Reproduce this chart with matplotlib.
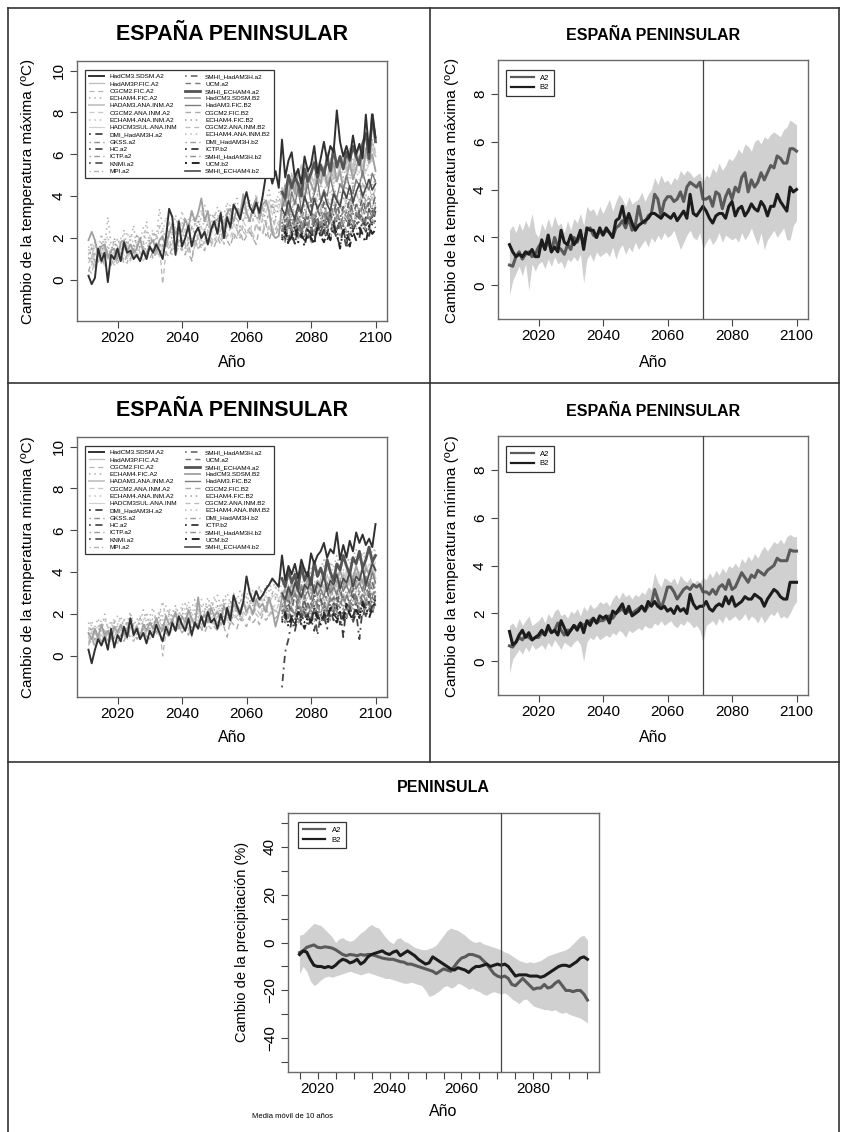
import matplotlib
matplotlib.use("Agg")
import matplotlib.pyplot as plt
from matplotlib.lines import Line2D

plt.rcParams["font.family"] = ["Liberation Sans", "DejaVu Sans"]

W, H = 843, 1132

years_full = list(range(2011, 2101))
years_pr = list(range(2015, 2096))

model_names = [
    "HadCM3.SDSM.A2", "HadAM3P.FIC.A2", "CGCM2.FIC.A2", "ECHAM4.FIC.A2",
    "HADAM3.ANA.INM.A2", "CGCM2.ANA.INM.A2", "ECHAM4.ANA.INM.A2", "HADCM3SUL.ANA.INM",
    "DMI_HadAM3H.a2", "GKSS.a2", "HC.a2", "ICTP.a2", "KNMI.a2", "MPI.a2",
    "SMHI_HadAM3H.a2", "UCM.a2", "SMHI_ECHAM4.a2", "HadCM3.SDSM.B2",
    "HadAM3.FIC.B2", "CGCM2.FIC.B2", "ECHAM4.FIC.B2", "CGCM2.ANA.INM.B2",
    "ECHAM4.ANA.INM.B2", "DMI_HadAM3H.b2", "ICTP.b2", "SMHI_HadAM3H.b2",
    "UCM.b2", "SMHI_ECHAM4.b2",
]

# ---- temperatura maxima (2011-2100 o 2071-2100) ----
tx_hadcm3_sdsm_a2 = [0.2,-0.2,0.1,1.5,0.9,1.3,-0.1,1.2,1.0,1.5,
    0.9,1.8,1.3,1.4,1.0,1.2,0.9,1.4,1.0,1.6, 1.3,1.7,1.4,1.0,2.0,3.4,3.0,1.2,2.8,1.6,
    2.0,2.6,1.6,2.2,2.5,2.0,2.3,1.7,2.4,2.8, 2.2,3.2,2.0,3.0,2.5,3.6,3.3,2.9,3.6,4.2,
    3.5,3.2,3.7,3.2,4.0,5.0,5.3,4.6,5.2,4.4, 6.7,4.9,5.7,6.1,4.9,5.3,4.6,5.9,5.2,5.5,
    6.4,5.1,5.8,6.6,5.7,6.4,6.1,8.1,6.6,5.9, 6.4,5.8,6.9,6.0,6.5,5.8,7.9,6.1,7.9,6.8]
tx_hadam3p_fic_a2 = [3.9,4.6,4.2,5.1,4.4,4.9,5.5,4.3,5.2,4.8,5.9,4.6,5.4,5.0,6.1,
    5.3,4.8,5.7,5.2,6.0,5.5,6.3,5.1,5.8,6.4,5.4,6.0,5.6,6.6,6.1]
tx_cgcm2_fic_a2 = [0.5,0.3,1.0,0.8,1.3,0.6,1.1,0.9,1.4,0.7,
    1.2,1.0,0.8,1.5,1.1,1.3,0.9,1.6,1.2,1.0, 1.4,1.1,1.7,-0.2,1.3,1.5,1.9,1.2,1.6,1.4,
    1.8,1.3,0.9,1.7,2.0,1.5,1.9,2.2,1.6,2.0, 1.8,2.3,1.7,2.1,2.5,1.9,2.4,2.0,2.6,2.2,
    2.5,1.9,2.7,2.3,2.9,2.1,2.6,3.0,2.4,2.8, 2.7,3.2,2.5,3.0,3.4,2.8,3.1,3.6,2.9,3.3,
    3.0,3.5,3.2,2.8,3.7,3.3,3.9,3.1,3.6,3.4, 3.8,3.2,4.0,3.5,3.7,4.2,3.6,4.1,3.9,4.4]
tx_echam4_fic_a2 = [1.3,0.9,1.8,1.2,2.2,1.5,3.0,1.7,1.1,2.0,
    1.6,2.4,1.3,1.9,2.6,1.5,2.1,1.8,2.8,1.6, 2.3,2.0,3.4,2.5,1.9,2.8,2.2,3.1,2.4,2.7,
    3.0,2.5,3.3,2.8,2.3,3.1,3.6,2.7,3.2,2.9, 3.5,2.8,3.1,3.7,2.9,3.4,3.9,3.0,3.6,3.2,
    3.8,3.3,4.1,3.5,3.0,3.7,4.3,3.4,3.9,3.6, 4.4,3.8,4.6,4.0,5.0,4.2,4.7,4.1,5.3,4.5,
    4.9,5.5,4.6,5.1,4.4,5.8,4.8,5.2,6.0,4.9, 5.4,6.2,5.0,5.7,6.5,5.2,6.0,5.5,6.7,5.8]
tx_hadam3_ana_a2 = [4.4,3.8,4.9,4.3,5.2,4.0,4.7,5.5,4.5,5.0,4.6,5.6,4.9,5.3,4.7,
    5.8,5.1,4.8,5.5,6.0,5.2,5.7,5.4,6.2,5.6,5.1,6.0,5.7,6.3,5.9]
tx_cgcm2_ana_a2 = [0.8,1.2,0.6,1.0,1.4,0.9,1.3,1.1,0.7,1.2,
    1.0,1.5,1.2,0.9,1.4,1.1,1.6,1.3,1.0,1.5, 1.3,1.7,1.1,1.5,1.9,1.4,1.2,1.8,1.6,2.0,
    1.7,1.4,2.1,1.8,1.5,2.2,1.9,2.4,1.7,2.1, 2.3,1.9,2.6,2.2,2.0,2.7,2.4,2.1,2.8,2.5,
    2.2,2.9,2.6,2.3,3.0,2.7,3.2,2.5,2.9,2.6, 3.1,2.8,3.4,3.0,2.7,3.5,3.2,2.9,3.7,3.3,
    3.0,3.6,3.4,3.1,3.9,3.5,3.2,4.0,3.7,3.4, 4.1,3.6,3.9,4.3,3.7,4.2,4.0,4.5,3.8,4.4]
tx_echam4_ana_a2 = [1.6,1.1,1.9,1.4,1.0,1.7,2.1,1.3,1.8,1.5,
    2.0,1.6,2.3,1.8,1.4,2.2,1.9,2.5,1.7,2.1, 2.4,1.9,2.7,2.2,3.0,2.0,2.6,2.3,2.9,2.5,
    2.8,2.3,3.1,2.6,2.9,3.3,2.7,3.0,2.5,3.2, 3.0,3.4,2.8,3.3,3.6,3.1,2.9,3.5,3.2,3.8,
    3.4,3.1,3.7,3.3,4.0,3.6,3.2,3.9,3.5,4.2, 4.0,4.5,3.8,4.3,4.7,4.1,4.9,4.4,5.1,4.6,
    4.3,5.0,4.7,5.4,4.8,5.2,4.6,5.5,5.0,5.7, 5.3,4.9,5.8,5.2,6.0,5.5,5.1,6.2,5.6,6.4]
tx_hadcm3sul_ana = [1.2,1.6,0.8,1.3,1.0,1.5,1.2,0.8,1.1,1.3,
    1.6,1.2,1.0,1.4,1.7,1.1,1.3,0.9,1.2,1.5, 1.4,1.8,1.2,1.6,2.0,1.7,1.4,2.2,1.8,2.1,
    2.4,1.9,2.6,2.2,2.0,2.5,2.3,2.8,2.1,2.6, 2.7,2.3,2.9,2.5,3.1,2.7,2.4,3.0,2.8,3.3,
    2.9,3.4,3.0,2.7,3.5,3.2,3.8,3.1,3.6,3.4, 3.9,3.5,4.2,3.7,4.0,4.4,3.8,4.6,4.1,4.3,
    4.7,4.2,4.5,4.9,4.4,5.1,4.6,4.8,5.2,4.7, 5.0,5.4,4.9,5.3,5.1,5.6,5.2,5.5,5.8,5.3]
tx_dmi_a2 = [2.4,1.9,2.8,2.1,1.7,2.5,2.2,3.0,2.0,2.6,1.8,2.9,2.3,2.7,2.1,
    3.1,2.4,2.0,2.8,2.5,1.6,2.9,2.3,3.2,2.6,2.2,3.0,2.4,3.3,2.7]
tx_gkss_a2 = [2.9,2.4,3.3,2.6,3.0,2.2,2.8,3.4,2.5,3.1,2.7,3.5,2.9,2.4,3.2,
    2.8,3.6,3.0,2.6,3.4,3.1,2.7,3.7,3.2,2.9,3.5,3.3,3.9,3.0,3.6]
tx_hc_a2 = [2.1,2.6,1.9,2.4,2.9,2.2,2.0,2.7,2.4,1.9,2.8,2.3,2.6,2.1,3.0,
    2.5,2.2,2.9,2.6,2.3,1.5,2.4,2.8,2.5,3.1,2.7,2.3,3.0,2.6,3.3]
tx_ictp_a2 = [3.2,2.7,3.6,3.0,2.6,3.4,3.1,2.8,3.7,3.2,2.9,3.5,3.3,3.8,3.0,
    3.4,3.1,3.9,3.5,3.2,3.7,3.4,4.0,3.6,3.3,4.1,3.8,3.5,4.2,3.9]
tx_knmi_a2 = [2.6,2.2,2.9,2.5,2.1,2.8,2.4,2.0,2.7,2.3,3.0,2.6,2.2,2.9,2.5,
    3.2,2.7,2.4,3.0,2.6,2.3,3.1,2.8,2.5,3.3,2.9,2.6,3.4,3.0,3.5]
tx_mpi_a2 = [3.5,3.0,3.8,3.3,3.9,3.4,3.1,4.0,3.6,3.2,4.1,3.7,3.4,4.2,3.8,
    3.5,4.3,3.9,3.6,4.4,4.0,3.7,4.5,4.1,3.8,4.6,4.2,4.7,4.3,4.8]
tx_smhi_had_a2 = [2.7,3.2,2.5,3.0,2.8,3.5,2.6,3.1,2.9,3.6,2.7,3.3,3.0,3.7,2.8,
    3.4,3.1,3.8,3.0,3.5,3.2,3.9,3.1,3.6,3.3,4.0,3.2,3.7,3.4,4.1]
tx_ucm_a2 = [2.3,2.9,2.0,2.6,2.4,3.1,2.2,2.8,2.5,3.2,2.3,2.9,2.6,3.3,2.4,
    3.0,2.7,3.4,2.5,3.1,2.8,3.5,2.6,3.2,2.9,3.6,2.7,3.3,3.0,3.7]
tx_smhi_ech_a2 = [4.2,3.9,5.0,4.4,4.9,4.6,4.0,5.3,4.7,5.1,5.6,4.9,5.5,5.0,5.8,
    5.2,6.3,5.4,5.9,5.3,6.1,5.7,6.4,5.9,5.5,6.5,7.0,5.8,7.9,6.6]
tx_hadcm3_sdsm_b2 = [1.9,2.3,1.9,1.2,1.6,1.7,1.1,1.4,1.5,1.0,
    1.8,1.9,1.4,1.7,1.3,1.5,2.0,1.3,1.2,1.7, 1.9,1.4,1.9,2.1,1.6,2.2,2.7,2.2,2.5,2.3,
    2.9,2.5,3.3,2.8,3.2,3.9,2.8,3.3,2.4,2.8, 2.9,3.1,2.4,3.2,3.4,2.8,3.4,3.1,4.1,3.2,
    2.8,3.5,3.9,2.9,3.6,3.8,3.3,2.2,2.0,2.1, 3.6,4.5,3.9,4.8,4.1,5.3,4.4,3.8,5.1,4.6,
    4.2,5.0,4.6,5.4,4.5,4.9,5.6,4.7,5.2,4.3, 4.9,5.6,4.8,5.3,5.9,4.9,6.3,5.6,6.0,5.2]
tx_hadam3_fic_b2 = [3.4,3.9,3.1,4.2,3.6,4.4,3.3,3.9,4.6,3.7,4.1,4.8,3.8,4.3,4.0,
    4.9,4.2,3.9,4.6,4.3,5.0,4.4,4.1,4.8,4.5,5.2,4.6,4.3,5.1,4.7]
tx_cgcm2_fic_b2 = [0.4,0.9,0.6,1.2,0.8,1.0,1.4,0.7,1.1,0.9,
    1.3,0.8,1.2,1.0,1.5,1.1,0.9,1.4,1.2,1.6, 1.0,1.4,1.2,1.7,1.3,1.1,1.6,1.4,1.9,1.5,
    1.2,1.8,0.9,2.0,1.5,1.7,1.4,2.1,1.8,1.6, 2.0,1.7,2.3,1.9,1.6,2.2,2.0,2.4,1.8,2.1,
    2.3,2.0,1.7,2.5,2.2,2.7,1.9,2.4,2.1,2.6, 2.4,2.1,2.7,2.3,2.9,2.5,2.2,2.8,2.6,3.0,
    2.7,2.4,3.0,2.6,3.2,2.8,2.5,3.1,2.9,3.3, 3.0,2.7,3.3,2.9,3.5,3.1,2.8,3.4,3.2,3.6]
tx_echam4_fic_b2 = [1.0,1.5,0.8,1.3,1.8,1.1,1.6,1.3,2.0,1.2,
    1.7,1.4,1.9,1.2,1.6,2.1,1.5,1.8,1.3,2.0, 1.8,2.2,1.6,2.0,1.7,2.4,1.9,2.1,2.6,1.8,
    2.3,2.0,2.5,2.2,2.8,2.1,2.4,2.7,2.3,2.6, 2.9,2.4,2.7,3.1,2.5,2.9,2.6,3.2,2.8,3.0,
    2.7,3.3,2.9,3.1,3.5,2.8,3.2,3.6,3.0,3.4, 3.2,3.7,3.4,3.0,3.8,3.5,3.3,4.0,3.6,3.9,
    3.5,4.1,3.7,4.3,3.9,3.6,4.4,4.0,4.2,3.8, 4.5,4.1,4.3,4.7,4.2,4.6,4.4,4.9,4.5,4.8]
tx_cgcm2_ana_b2 = [1.1,0.7,1.3,0.9,1.2,1.5,1.0,1.4,0.8,1.3,
    1.1,1.6,1.2,1.4,1.0,1.7,1.3,1.5,1.2,1.8, 1.4,1.2,1.7,1.5,1.3,1.9,1.6,1.4,2.0,1.7,
    1.5,2.1,1.8,1.6,2.2,1.9,1.7,2.3,2.0,1.8, 2.2,2.4,1.9,2.1,2.5,2.2,2.0,2.6,2.3,2.1,
    2.5,2.2,2.7,2.4,2.3,2.8,2.5,2.2,2.9,2.6, 2.8,2.5,3.0,2.7,2.6,3.1,2.8,2.5,3.2,2.9,
    3.1,2.8,3.3,3.0,2.9,3.4,3.1,2.8,3.5,3.2, 3.4,3.1,3.6,3.3,3.2,3.7,3.4,3.9,3.5,3.8]
tx_echam4_ana_b2 = [1.4,1.8,1.2,1.6,1.1,2.0,1.5,1.3,1.9,1.6,
    1.3,1.9,1.6,2.2,1.7,1.4,2.1,1.8,2.4,1.9, 2.2,1.7,2.5,2.0,2.3,2.8,2.1,2.6,2.2,3.3,
    2.4,2.9,2.3,2.7,3.1,2.5,2.8,3.0,2.6,3.2, 2.8,3.1,2.7,3.4,3.0,3.6,2.9,3.3,3.1,3.5,
    3.2,2.9,3.6,3.3,3.0,3.8,3.4,3.7,3.2,3.9, 3.6,4.0,3.5,4.2,3.8,4.4,3.7,4.1,4.5,3.9,
    4.3,4.0,4.6,4.2,4.8,4.1,4.5,4.9,4.4,4.7, 4.6,5.0,4.5,5.2,4.8,4.6,5.3,4.9,5.1,5.0]
tx_dmi_b2 = [2.2,1.8,2.6,2.0,2.4,1.9,2.7,2.1,2.5,1.7,2.3,2.8,2.0,2.6,2.2,
    1.9,2.7,2.4,2.1,2.9,2.3,2.0,2.8,2.5,2.2,3.0,2.4,2.1,2.9,2.6]
tx_ictp_b2 = [2.0,2.5,1.8,2.3,1.7,2.6,2.1,1.9,2.4,2.2,1.7,2.7,2.0,2.4,1.9,
    2.3,2.8,2.1,1.6,2.5,2.2,1.9,2.6,2.3,2.0,2.9,2.4,2.1,2.7,2.5]
tx_smhi_had_b2 = [2.6,2.2,2.9,2.4,3.1,2.5,2.3,3.0,2.7,2.4,3.2,2.6,2.8,2.5,3.3,
    2.7,2.4,3.1,2.9,2.6,3.4,2.8,2.5,3.2,3.0,2.7,3.5,2.9,3.3,3.1]
tx_ucm_b2 = [1.9,2.3,1.7,2.1,2.6,1.8,2.2,1.6,2.4,2.0,1.7,2.5,2.1,1.8,2.3,
    1.9,2.6,2.2,1.5,2.4,2.0,1.6,2.3,1.9,2.5,2.1,1.8,2.6,2.2,2.4]
tx_smhi_ech_b2 = [3.4,3.1,3.8,3.3,2.9,3.6,3.2,4.0,3.5,3.1,3.9,3.4,3.7,4.2,3.6,
    3.3,4.1,3.8,3.5,4.3,3.9,4.5,3.7,4.2,4.6,4.0,4.4,4.8,4.3,4.6]

# ---- temperatura minima ----
tn_hadcm3_sdsm_a2 = [0.3,-0.35,0.3,0.8,0.5,0.9,0.3,1.3,0.4,1.0,
    0.7,1.4,0.9,1.8,1.0,1.3,0.8,1.1,0.6,1.2, 0.9,1.5,1.1,0.7,1.4,1.0,1.6,1.2,1.9,1.5,
    1.2,1.8,1.0,1.6,1.3,1.9,1.4,2.1,1.6,1.8, 1.3,2.0,1.5,2.3,1.7,2.9,2.4,2.0,2.6,3.8,
    3.0,2.6,3.1,2.7,2.9,3.2,3.4,3.7,3.5,3.3, 4.8,3.6,4.3,3.9,4.4,3.7,4.6,4.1,3.8,4.9,
    4.4,4.8,5.0,5.4,4.7,5.1,4.9,5.9,4.6,5.3, 4.7,5.5,5.0,5.9,5.4,5.8,5.3,5.6,5.2,6.3]
tn_hadam3p_fic_a2 = [3.1,2.6,3.4,2.9,3.6,3.0,2.7,3.5,3.2,3.8,3.0,3.6,3.3,2.9,3.9,
    3.4,3.1,4.0,3.5,3.2,4.1,3.6,3.3,4.3,3.7,3.4,4.4,3.9,4.6,4.0]
tn_cgcm2_fic_a2 = [0.5,0.8,0.4,0.9,0.6,1.0,0.7,1.1,0.8,0.6,
    1.0,0.8,1.2,0.9,0.7,1.1,0.9,1.3,1.0,0.8, 1.2,1.0,1.4,0.0,1.1,1.3,1.5,1.2,1.4,1.1,
    1.5,1.3,0.9,1.6,1.4,1.2,1.7,1.5,1.3,1.8, 1.6,1.4,1.9,1.7,1.5,2.0,1.8,1.6,2.1,1.9,
    1.7,2.2,2.0,1.8,2.3,2.1,1.9,2.4,2.2,2.0, 2.5,2.3,2.1,2.6,2.4,2.2,2.7,2.5,2.3,2.8,
    2.6,2.4,2.9,2.7,2.5,3.0,2.8,2.6,3.1,2.9, 2.7,3.2,3.0,2.8,3.3,3.1,2.9,3.4,3.2,3.5]
tn_echam4_fic_a2 = [1.6,1.0,1.4,1.8,1.1,2.0,1.3,1.7,1.2,1.5,
    1.9,1.3,1.6,2.1,1.4,1.8,1.5,2.2,1.6,1.9, 2.3,1.7,2.0,2.6,1.8,2.1,1.9,2.4,2.0,2.2,
    2.5,2.0,2.3,2.7,2.1,2.4,2.2,2.8,2.3,2.6, 2.9,2.4,2.7,3.0,2.5,2.8,2.6,3.1,2.7,2.9,
    3.2,2.8,3.0,3.3,2.9,3.4,3.1,3.6,3.2,3.5, 3.7,3.3,3.9,3.5,4.1,3.6,3.8,4.3,3.7,4.0,
    4.4,3.9,4.2,4.6,4.0,4.5,4.2,4.8,4.3,4.6, 4.9,4.4,4.7,5.1,4.6,5.0,4.8,5.3,4.9,5.2]
tn_hadam3_ana_a2 = [2.8,3.3,2.6,3.1,2.9,3.5,2.7,3.2,3.6,3.0,3.4,2.8,3.7,3.2,3.5,
    3.0,3.8,3.3,3.6,3.1,3.9,3.4,3.7,3.2,4.0,3.5,3.8,3.3,4.2,3.7]
tn_cgcm2_ana_a2 = [0.7,1.0,0.5,0.9,1.1,0.6,1.0,0.8,1.2,0.9,
    1.1,0.8,1.3,1.0,0.9,1.2,1.4,1.0,1.3,1.1, 1.4,1.2,1.0,1.5,1.3,1.6,1.2,1.4,1.7,1.3,
    1.5,1.8,1.4,1.6,1.9,1.5,1.7,2.0,1.6,1.8, 2.0,1.7,2.1,1.8,2.2,1.9,2.0,2.3,1.9,2.2,
    2.4,2.0,2.3,2.5,2.1,2.4,2.6,2.2,2.5,2.7, 2.4,2.8,2.5,2.6,2.9,2.6,3.0,2.7,2.8,3.1,
    2.8,3.2,2.9,3.0,3.3,3.0,3.4,3.1,3.2,3.5, 3.2,3.6,3.3,3.4,3.7,3.4,3.8,3.5,3.6,3.9]
tn_echam4_ana_a2 = [1.3,1.7,1.1,1.5,1.2,1.8,1.4,1.2,1.6,1.9,
    1.4,1.8,1.5,2.0,1.6,1.4,1.9,1.7,2.1,1.6, 2.0,1.7,2.2,1.9,2.4,1.8,2.1,2.3,1.9,2.5,
    2.2,2.6,2.0,2.4,2.2,2.7,2.3,2.5,2.1,2.8, 2.5,2.3,2.8,2.6,2.4,3.0,2.7,2.5,3.1,2.8,
    2.6,3.2,2.9,3.3,2.8,3.1,3.4,3.0,3.3,3.1, 3.5,3.2,3.7,3.4,3.9,3.5,3.3,4.0,3.6,4.2,
    3.8,4.1,3.7,4.3,4.0,4.5,3.9,4.2,4.6,4.1, 4.4,4.7,4.3,4.8,4.5,4.9,4.6,5.0,4.7,5.1]
tn_hadcm3sul_ana = [0.9,1.2,0.7,1.0,1.3,0.8,1.1,0.9,1.2,1.0,
    1.3,1.1,0.9,1.4,1.2,1.5,1.0,1.3,1.1,1.6, 1.4,1.2,1.7,1.3,1.5,1.8,1.4,1.6,1.9,1.5,
    1.7,2.0,1.6,1.8,2.1,1.7,1.9,2.2,1.8,2.0, 2.2,1.9,2.3,2.0,2.4,2.1,2.5,2.2,2.6,2.3,
    2.5,2.7,2.4,2.8,2.6,2.9,2.5,2.8,3.0,2.7, 3.1,2.8,3.2,2.9,3.3,3.0,3.4,3.1,3.5,3.2,
    3.4,3.6,3.3,3.7,3.5,3.8,3.4,3.9,3.6,4.0, 3.8,4.1,3.7,4.2,3.9,4.3,4.0,4.4,4.1,4.5]
tn_dmi_a2 = [-1.5,0.2,0.8,1.7,1.2,1.9,1.5,2.1,1.4,1.8,1.2,2.0,1.6,1.9,1.3,
    2.2,1.7,2.4,1.5,2.0,1.8,2.5,1.6,2.1,0.8,2.3,1.9,2.6,2.0,2.8]
tn_gkss_a2 = [2.5,2.1,2.8,2.3,2.0,2.6,2.2,2.9,2.4,2.1,2.7,2.3,3.0,2.5,2.2,
    2.8,2.4,3.1,2.6,2.3,2.9,2.5,3.2,2.7,2.4,3.0,2.6,3.3,2.8,3.4]
tn_hc_a2 = [1.9,1.6,2.2,1.8,1.5,2.1,1.7,2.3,1.9,1.6,2.2,1.0,2.0,1.7,2.3,
    1.9,2.5,1.8,2.1,1.6,2.4,2.0,1.7,2.6,2.1,1.8,2.5,2.2,2.8,2.4]
tn_ictp_a2 = [2.8,2.4,3.1,2.6,2.9,2.3,3.0,2.7,3.2,2.5,2.9,3.3,2.7,3.0,2.6,
    3.4,2.8,3.1,2.7,3.5,2.9,3.2,2.8,3.6,3.0,3.3,2.9,3.7,3.1,3.8]
tn_knmi_a2 = [2.2,1.8,2.5,2.0,1.7,2.3,1.9,2.6,2.1,1.8,2.4,2.0,2.7,2.2,1.9,
    2.5,2.1,2.8,2.3,2.0,2.6,2.2,2.9,2.4,2.1,2.7,2.3,3.0,2.5,2.9]
tn_mpi_a2 = [3.0,2.6,3.3,2.8,3.5,2.9,3.2,2.7,3.6,3.0,3.4,2.9,3.7,3.1,3.3,
    3.8,3.2,3.5,3.0,3.9,3.3,3.6,3.1,4.0,3.4,3.7,3.2,4.1,3.6,4.2]
tn_smhi_had_a2 = [2.4,2.0,2.7,2.2,2.9,2.3,2.1,2.8,2.5,2.2,3.0,2.4,2.6,2.3,3.1,
    2.5,2.8,2.4,3.2,2.6,2.9,2.5,3.3,2.7,3.0,2.6,3.4,2.8,3.5,3.0]
tn_ucm_a2 = [2.0,2.4,1.8,2.2,1.9,2.6,2.0,2.3,1.8,2.5,2.1,2.7,1.9,2.4,2.2,
    2.8,2.0,2.5,2.3,2.9,2.1,2.6,2.4,3.0,2.2,2.7,2.5,3.1,2.3,2.8]
tn_smhi_ech_a2 = [3.7,3.3,4.1,3.5,3.9,3.2,4.3,3.6,4.0,3.4,4.5,3.8,4.2,3.7,4.6,
    4.0,3.6,4.4,4.1,4.8,4.3,3.9,4.7,4.4,5.0,4.2,4.6,5.2,4.5,4.8]
tn_hadcm3_sdsm_b2 = [1.1,0.8,1.3,0.9,1.5,1.0,1.2,0.8,1.4,1.1,
    1.5,1.0,1.3,1.7,1.1,1.4,0.9,1.5,1.2,1.6, 1.3,1.8,1.4,1.2,1.9,1.5,1.7,2.1,1.3,1.9,
    1.6,2.2,1.8,1.4,2.8,1.7,2.0,1.6,2.3,1.9, 2.1,1.7,2.4,2.0,1.8,2.5,2.2,1.9,2.6,2.1,
    2.4,2.0,2.7,2.3,2.5,2.1,2.8,2.2,1.4,2.0, 2.8,3.2,2.7,3.5,3.0,2.8,3.4,3.1,3.7,3.2,
    3.0,3.6,3.3,3.9,3.4,3.1,3.8,3.5,4.1,3.6, 3.4,4.0,3.7,4.3,3.8,3.5,4.2,3.9,4.6,4.1]
tn_hadam3_fic_b2 = [2.9,2.5,3.2,2.7,3.0,2.6,3.3,2.8,3.1,2.7,3.4,2.9,3.2,2.8,3.5,
    3.0,3.3,2.9,3.6,3.1,3.4,3.0,3.7,3.2,3.5,3.1,3.8,3.3,4.0,3.5]
tn_cgcm2_fic_b2 = [0.6,0.9,0.5,1.0,0.7,0.8,1.1,0.6,0.9,0.8,
    1.0,0.7,1.1,0.9,1.2,0.8,1.0,1.3,0.9,1.1, 0.9,1.2,1.0,1.3,1.1,0.9,1.4,1.2,1.5,1.1,
    1.3,1.0,1.4,1.2,1.6,1.3,1.1,1.5,1.7,1.4, 1.2,1.6,1.4,0.9,1.7,1.5,1.3,1.8,1.6,1.4,
    1.9,1.6,1.8,1.5,2.0,1.7,1.9,2.1,1.8,2.0, 1.8,2.1,1.9,2.2,2.0,2.3,2.1,1.9,2.4,2.2,
    2.0,2.3,2.5,2.1,2.4,2.2,2.6,2.3,2.5,2.7, 2.4,2.6,2.8,2.5,2.7,2.9,2.6,2.8,3.0,2.7]
tn_echam4_fic_b2 = [1.0,1.4,0.8,1.2,1.5,1.1,1.3,0.9,1.6,1.2,
    1.4,1.1,1.7,1.3,1.5,1.2,1.8,1.4,1.6,1.3, 1.7,1.5,1.9,1.4,1.8,2.0,1.6,1.9,1.7,2.1,
    1.8,2.2,1.7,2.0,2.3,1.9,2.1,2.4,2.0,2.2, 2.4,2.1,2.5,2.2,2.6,2.3,2.1,2.7,2.4,2.5,
    2.7,2.4,2.8,2.6,2.9,2.5,2.7,3.0,2.8,2.6, 2.9,3.1,2.8,3.2,3.0,3.3,2.9,3.1,3.4,3.2,
    3.0,3.4,3.2,3.5,3.3,3.1,3.6,3.4,3.7,3.5, 3.3,3.8,3.5,3.9,3.6,4.0,3.7,3.9,4.1,3.8]
tn_cgcm2_ana_b2 = [0.9,0.6,1.1,0.8,1.0,1.2,0.7,1.1,0.9,1.3,
    1.0,1.2,0.8,1.3,1.1,1.4,1.0,1.2,1.5,1.1, 1.3,1.5,1.2,1.4,1.6,1.3,1.5,1.2,1.7,1.4,
    1.6,1.3,1.8,1.5,1.7,1.4,1.9,1.6,1.8,1.5, 1.9,1.7,2.0,1.6,2.1,1.8,1.9,2.2,1.7,2.0,
    2.2,1.9,2.3,2.0,2.1,2.4,1.9,2.3,2.1,2.5, 2.2,2.4,2.1,2.6,2.3,2.5,2.2,2.7,2.4,2.6,
    2.3,2.8,2.5,2.7,2.4,2.9,2.6,2.8,2.5,3.0, 2.7,2.9,2.6,3.1,2.8,3.0,2.7,3.2,2.9,3.1]
tn_echam4_ana_b2 = [1.2,1.5,1.0,1.4,1.7,1.1,1.5,1.3,1.8,1.4,
    1.2,1.7,1.4,1.9,1.5,1.3,1.8,1.6,2.0,1.5, 1.8,1.6,2.1,1.7,1.9,2.3,1.8,2.0,1.7,2.2,
    2.0,2.4,1.9,2.2,2.5,2.0,2.3,2.1,2.6,2.2, 2.4,2.1,2.7,2.3,2.5,2.8,2.2,2.6,2.4,2.9,
    2.6,2.4,3.0,2.5,2.8,3.1,2.6,2.9,2.7,3.2, 2.9,3.3,2.8,3.1,3.4,3.0,3.2,3.5,3.1,3.3,
    3.6,3.2,3.4,3.7,3.3,3.5,3.8,3.4,3.6,3.9, 3.7,3.5,4.0,3.6,3.8,4.1,3.7,3.9,4.2,4.0]
tn_dmi_b2 = [1.9,1.6,2.2,1.8,2.0,1.5,2.3,1.9,1.7,2.1,1.6,2.4,2.0,1.8,2.2,
    1.7,2.5,2.1,1.9,2.3,1.8,2.6,2.2,2.0,2.4,1.9,2.7,2.3,2.1,2.5]
tn_ictp_b2 = [1.7,2.1,1.5,1.9,1.4,2.2,1.8,1.6,2.0,1.5,2.3,1.9,1.7,2.1,1.6,
    2.4,2.0,1.8,2.2,0.9,2.5,2.1,1.9,2.3,1.8,2.6,2.2,2.0,2.4,2.7]
tn_smhi_had_b2 = [2.1,2.5,1.9,2.3,2.0,2.6,2.2,1.9,2.4,2.1,2.7,2.3,2.0,2.5,2.2,
    2.8,2.4,2.1,2.6,2.3,2.9,2.5,2.2,2.7,2.4,3.0,2.6,2.3,2.8,3.1]
tn_ucm_b2 = [1.6,2.0,1.4,1.8,1.5,2.1,1.7,1.3,1.9,1.6,2.2,1.8,1.5,2.0,1.7,
    2.3,1.9,1.6,2.1,1.8,2.4,2.0,1.7,2.2,1.9,2.5,2.1,1.8,2.3,2.6]
tn_smhi_ech_b2 = [3.0,2.7,3.3,2.9,3.5,3.1,2.8,3.4,3.2,3.7,3.0,3.5,3.3,3.8,3.1,
    3.6,3.4,3.9,3.2,3.7,3.5,4.0,3.3,3.8,3.6,4.2,3.4,3.9,4.4,4.1]

# ---- medias de escenario y rango (2011-2100) ----
tx_a2 = [0.85,0.8,1.2,1.4,1.1,1.3,1.4,1.2,1.3,1.6,
    1.8,1.5,1.9,1.4,2.0,1.6,1.5,1.3,1.7,1.5, 2.0,1.8,2.2,1.7,2.3,2.4,2.1,2.0,2.3,2.1,
    2.3,2.2,2.0,2.4,2.5,2.7,2.4,2.8,2.3,2.5, 3.3,2.7,2.6,2.9,3.0,3.8,3.6,2.9,3.5,3.7,
    3.7,3.5,3.6,3.9,3.5,4.1,4.3,4.2,4.1,4.3, 3.6,3.6,3.7,3.3,3.9,3.8,3.2,3.7,4.0,3.6,
    4.1,3.9,4.5,4.7,3.9,4.4,4.1,4.3,4.7,4.4, 4.7,5.0,4.9,5.4,5.3,5.1,5.1,5.7,5.7,5.6]
tx_b2 = [1.7,1.4,1.2,1.3,1.2,1.4,1.3,1.5,1.2,1.2,
    1.9,1.5,2.1,1.4,1.6,1.4,2.3,1.8,1.7,2.1, 1.7,1.9,2.3,1.5,2.4,2.3,2.3,2.0,2.4,2.1,
    2.4,2.2,2.0,2.7,2.8,3.3,2.6,3.0,2.6,2.3, 2.5,2.6,2.7,2.8,3.0,3.0,2.9,2.8,3.0,2.9,
    2.8,3.0,2.7,2.9,3.1,2.8,3.8,3.0,2.9,3.1, 3.3,3.1,2.8,2.6,2.9,3.0,3.0,2.8,3.3,3.5,
    2.9,3.2,3.3,2.9,3.1,3.4,3.2,3.1,3.5,3.3, 2.9,3.3,3.3,3.8,3.5,3.3,3.1,4.1,3.9,4.0]
tx_hi = [2.3,2.5,2.2,2.6,2.3,2.7,2.4,3.0,2.2,2.0,
    2.6,2.3,2.8,2.4,2.9,2.5,2.6,2.2,2.7,2.3, 2.8,2.6,3.0,2.5,3.3,3.1,3.2,2.9,3.3,3.0,
    3.3,3.6,3.1,3.5,3.8,3.6,3.3,3.7,3.4,3.5, 3.6,3.9,3.5,3.8,4.0,4.5,4.2,4.6,4.3,4.4,
    4.2,4.5,4.4,4.8,4.6,4.8,4.7,4.5,4.6,4.7, 4.3,4.6,4.5,4.9,4.7,5.1,4.8,5.0,5.3,5.2,
    5.4,5.7,5.5,5.9,5.8,5.6,6.0,6.1,5.9,6.2, 6.1,6.3,6.4,6.3,6.2,6.5,6.6,6.9,6.8,6.7]
tx_lo = [-0.4,0.2,0.5,0.8,0.4,0.9,-0.2,0.9,0.6,0.9,
    1.0,0.7,1.1,0.8,1.2,0.9,1.0,0.7,1.1,1.0, 1.2,1.0,1.3,0.1,1.1,1.3,1.0,1.4,1.2,1.3,
    1.4,1.2,1.6,1.1,1.5,1.7,1.3,1.6,1.4,1.8, 1.5,1.7,1.9,1.6,2.0,1.8,2.1,1.9,2.2,2.0,
    2.1,2.3,1.9,1.5,1.8,2.1,2.3,2.0,1.9,2.2, 1.5,1.8,2.0,1.7,1.9,2.2,1.8,2.1,2.0,1.9,
    2.0,1.8,2.2,1.9,2.1,2.4,2.0,1.7,2.2,1.5, 1.9,2.1,2.3,2.0,2.2,2.4,1.9,1.9,2.5,2.7]

tn_a2 = [0.65,0.6,0.8,1.0,0.9,1.1,1.0,0.9,1.0,1.0,
    1.2,1.1,1.4,1.2,1.3,1.6,1.3,1.1,1.3,1.3, 1.5,1.4,1.6,1.5,1.6,1.7,1.8,1.6,1.7,1.7,
    1.8,1.9,1.8,2.0,2.1,2.2,2.0,2.1,2.0,2.1, 2.2,2.3,2.1,2.3,2.4,3.0,2.6,2.2,2.6,3.1,
    3.1,2.9,2.6,2.8,3.0,3.1,3.0,3.2,3.1,3.2, 2.9,2.9,2.8,3.0,2.8,3.1,3.2,3.0,3.4,3.0,
    3.1,3.4,3.7,3.5,3.3,3.6,3.5,3.8,3.7,3.6, 3.8,3.9,4.0,4.3,4.2,4.2,4.2,4.65,4.6,4.6]
tn_b2 = [1.25,0.7,0.8,1.1,1.3,1.0,1.2,0.9,1.0,1.1,
    1.3,1.1,1.5,1.2,1.3,1.1,1.7,1.4,1.1,1.3, 1.5,1.3,1.6,1.2,1.7,1.5,1.8,1.6,1.9,1.8,
    1.9,1.6,2.1,2.0,2.2,2.4,2.0,2.3,1.9,2.0, 2.1,2.3,2.1,2.5,2.3,2.5,2.3,2.2,2.3,2.1,
    2.2,2.0,2.3,2.1,2.2,2.0,2.8,2.4,2.2,2.3, 2.3,2.5,2.2,2.1,2.3,2.4,2.3,2.7,2.4,2.7,
    2.3,2.4,2.5,2.7,2.6,2.6,2.8,2.7,2.6,2.3, 2.6,2.8,3.0,2.9,2.7,2.6,2.6,3.3,3.3,3.3]
tn_hi = [1.5,1.6,1.4,1.8,1.5,1.7,1.9,1.5,1.6,1.7,
    1.9,1.6,2.0,1.8,2.1,2.2,1.9,2.0,1.8,2.1, 2.0,2.2,1.9,2.3,2.1,2.4,2.2,2.3,2.5,2.4,
    2.5,2.3,2.6,2.8,2.6,2.9,2.7,2.8,2.6,2.8, 2.7,2.9,2.8,3.1,3.0,3.7,3.3,3.1,3.5,3.4,
    3.3,3.5,3.2,3.6,3.4,3.3,3.5,3.2,3.4,3.3, 3.5,3.4,3.7,3.5,3.8,3.6,3.9,3.7,4.0,3.9,
    4.1,3.9,4.3,4.1,4.4,4.2,4.5,4.3,4.6,4.8, 4.6,4.8,5.0,4.9,5.1,4.9,5.2,5.3,5.2,5.2]
tn_lo = [-0.5,0.1,0.3,0.5,0.3,0.6,0.4,0.7,0.5,0.6,
    0.7,0.5,0.8,0.6,0.9,0.7,0.5,0.8,0.7,0.6, 0.8,0.9,0.7,0.0,0.8,1.0,0.9,1.1,0.9,1.0,
    1.1,1.0,1.2,1.1,1.3,1.2,1.0,1.3,1.2,1.3, 1.4,1.3,1.5,1.4,1.4,1.6,1.5,1.7,1.5,1.6,
    1.7,1.5,1.4,1.6,1.5,1.7,1.6,1.4,1.5,1.3, 0.8,1.5,1.6,1.7,1.5,1.8,1.6,1.9,1.7,1.8,
    1.9,1.7,1.8,2.0,1.7,1.9,1.8,1.6,1.9,1.6, 1.8,2.0,1.9,2.1,1.8,1.9,1.8,2.0,2.3,2.5]

# ---- precipitacion, media movil 10 anos (2015-2095) ----
pr_a2 = [-4.2,-3.5,-2.0,-1.5,-1.0,-2.0,-2.2,-1.8,-2.0,-2.3,
    -3.0,-4.0,-5.0,-5.5,-5.0,-5.2,-5.5,-5.0,-5.3,-5.0,
    -5.0,-5.5,-6.0,-6.5,-6.8,-7.0,-7.0,-7.5,-8.0,-8.2,
    -9.0,-9.0,-9.5,-10.0,-10.5,-11.0,-11.5,-12.0,-13.0,-12.0,
    -11.0,-11.5,-12.0,-10.0,-8.0,-6.5,-6.0,-5.0,-5.0,-5.5,
    -6.0,-7.5,-9.0,-11.0,-13.0,-14.0,-14.5,-14.0,-15.0,-17.5,
    -18.0,-16.5,-15.0,-16.5,-18.0,-19.5,-19.0,-19.0,-17.5,-19.0,
    -18.5,-17.0,-16.0,-18.0,-20.0,-20.0,-20.5,-20.0,-20.0,-21.5, -24.0]
pr_b2 = [-5.0,-3.5,-4.0,-7.0,-9.5,-10.0,-10.0,-10.5,-10.0,-10.5,
    -9.5,-8.0,-7.0,-7.5,-8.5,-8.0,-7.0,-9.0,-8.0,-6.0,
    -5.0,-4.5,-4.0,-3.5,-4.5,-5.0,-4.0,-3.5,-5.5,-4.5,
    -3.5,-4.5,-5.5,-7.0,-8.0,-9.0,-8.5,-6.0,-7.0,-8.0,
    -9.0,-10.0,-11.0,-11.5,-10.5,-11.0,-11.5,-12.5,-11.0,-10.0,
    -10.0,-9.5,-9.0,-10.0,-9.5,-9.0,-9.5,-9.0,-10.0,-12.0,
    -14.0,-13.5,-13.5,-13.5,-14.0,-14.0,-14.0,-14.5,-14.0,-13.0,
    -12.0,-11.0,-10.0,-9.5,-9.5,-10.0,-9.0,-8.0,-6.5,-6.0, -7.0]
pr_hi = [3.0,3.5,5.0,6.5,8.0,7.5,7.0,5.5,4.0,2.5,
    0.0,1.5,2.0,1.0,0.5,1.0,2.5,4.0,5.0,6.5,
    7.5,6.5,6.0,4.0,2.0,0.5,-0.5,1.5,2.0,0.5,
    0.0,-1.0,-2.0,-2.5,-3.0,-3.0,-2.5,-2.0,-1.0,1.0,
    3.0,5.0,6.0,5.5,5.0,4.0,3.0,1.5,0.5,0.0,
    0.5,-0.5,-1.0,-1.5,-2.0,-2.5,-3.0,-4.0,-4.5,-5.5,
    -6.5,-7.5,-8.0,-8.5,-8.0,-8.5,-8.0,-7.5,-6.5,-5.5,
    -5.0,-4.5,-4.0,-3.5,-3.0,-2.0,-0.5,1.0,2.5,3.0, 1.0]
pr_lo = [-13.0,-10.0,-12.0,-16.0,-18.0,-17.0,-15.5,-14.5,-14.0,-14.5,
    -14.0,-13.5,-13.0,-12.5,-12.0,-12.5,-13.0,-13.5,-13.0,-12.5,
    -13.0,-13.5,-14.0,-14.5,-15.0,-15.0,-15.5,-16.0,-16.5,-17.0,
    -17.0,-16.5,-17.0,-17.5,-18.0,-20.0,-22.5,-22.0,-21.0,-20.0,
    -18.5,-18.0,-19.0,-18.5,-17.0,-17.5,-18.5,-19.5,-19.0,-20.0,
    -20.5,-21.5,-22.0,-21.0,-20.5,-21.0,-21.5,-21.0,-22.0,-23.5,
    -24.5,-25.5,-24.0,-23.5,-25.0,-26.5,-27.0,-27.5,-28.0,-28.0,
    -28.5,-28.0,-29.0,-29.5,-29.0,-30.0,-30.5,-31.0,-31.5,-32.5, -33.5]

tx_models = [tx_hadcm3_sdsm_a2, tx_hadam3p_fic_a2, tx_cgcm2_fic_a2, tx_echam4_fic_a2,
    tx_hadam3_ana_a2, tx_cgcm2_ana_a2, tx_echam4_ana_a2, tx_hadcm3sul_ana,
    tx_dmi_a2, tx_gkss_a2, tx_hc_a2, tx_ictp_a2, tx_knmi_a2, tx_mpi_a2,
    tx_smhi_had_a2, tx_ucm_a2, tx_smhi_ech_a2, tx_hadcm3_sdsm_b2,
    tx_hadam3_fic_b2, tx_cgcm2_fic_b2, tx_echam4_fic_b2, tx_cgcm2_ana_b2,
    tx_echam4_ana_b2, tx_dmi_b2, tx_ictp_b2, tx_smhi_had_b2, tx_ucm_b2, tx_smhi_ech_b2]
tn_models = [tn_hadcm3_sdsm_a2, tn_hadam3p_fic_a2, tn_cgcm2_fic_a2, tn_echam4_fic_a2,
    tn_hadam3_ana_a2, tn_cgcm2_ana_a2, tn_echam4_ana_a2, tn_hadcm3sul_ana,
    tn_dmi_a2, tn_gkss_a2, tn_hc_a2, tn_ictp_a2, tn_knmi_a2, tn_mpi_a2,
    tn_smhi_had_a2, tn_ucm_a2, tn_smhi_ech_a2, tn_hadcm3_sdsm_b2,
    tn_hadam3_fic_b2, tn_cgcm2_fic_b2, tn_echam4_fic_b2, tn_cgcm2_ana_b2,
    tn_echam4_ana_b2, tn_dmi_b2, tn_ictp_b2, tn_smhi_had_b2, tn_ucm_b2, tn_smhi_ech_b2]

# line styles (R lty look-alikes)
DASH = (0, (4, 3))
DOT = (0, (1, 2.5))
DOTDASH = (0, (1, 2.5, 4, 2.5))
model_style = [
    ("#303030", "-", 1.4, 6), ("#bdbdbd", "-", 0.9, 2), ("#b5b5b5", DASH, 0.9, 2),
    ("#b0b0b0", DOT, 1.1, 2), ("#c4c4c4", "-", 1.3, 2), ("#c8c8c8", DASH, 0.9, 2),
    ("#c0c0c0", DOT, 1.1, 2), ("#d0d0d0", "-", 0.8, 2), ("#454545", DOTDASH, 1.3, 3),
    ("#8c8c8c", DOTDASH, 1.0, 3), ("#505050", DOTDASH, 1.3, 3), ("#9a9a9a", DOTDASH, 1.0, 3),
    ("#5a5a5a", DOTDASH, 1.3, 3), ("#acacac", DOTDASH, 0.9, 3), ("#6a6a6a", DOTDASH, 1.2, 3),
    ("#7a7a7a", DASH, 1.0, 3), ("#555555", "-", 2.0, 5), ("#a0a0a0", "-", 1.3, 3),
    ("#7c7c7c", "-", 1.0, 3), ("#aaaaaa", DASH, 1.0, 2), ("#9c9c9c", DOT, 1.1, 2),
    ("#bdbdbd", DASH, 0.9, 2), ("#bbbbbb", DOT, 1.1, 2), ("#9b9b9b", DOTDASH, 1.0, 3),
    ("#363636", DOTDASH, 1.3, 3), ("#8a8a8a", DOTDASH, 1.0, 3), ("#252525", DOTDASH, 1.4, 3),
    ("#4a4a4a", "-", 1.2, 5),
]


def fx(px):
    return px / W


def fy(py):
    return 1 - py / H


def make_axes(x0, y0, x1, y1):
    return fig.add_axes([fx(x0), fy(y1), (x1 - x0) / W, (y1 - y0) / H])


def r_axes(ax, xticks, xlabels, yticks, ylabels, size=11):
    for s in ax.spines.values():
        s.set_color("#6a6a6a")
        s.set_linewidth(1.0)
    ax.set_xticks(xticks)
    ax.set_xticklabels(xlabels)
    ax.set_yticks(yticks)
    ax.set_yticklabels(ylabels, rotation=90, va="center")
    ax.tick_params(length=5, width=0.8, color="#444444", labelsize=size, pad=2)
    ax.tick_params(axis="y", pad=3)


def fmt(v):
    return str(v).replace("-", "\u2212")


fig = plt.figure(figsize=(W / 100, H / 100), dpi=100)

# frame lines around the panels
frame = [((8, 839), (8, 8)), ((8, 839), (383, 383)), ((8, 839), (762, 762)),
         ((8, 8), (8, H)), ((839, 839), (8, H)), ((430, 430), (8, 762))]
for xs, ys in frame:
    fig.add_artist(Line2D([fx(x) for x in xs], [fy(y) for y in ys],
                          color="#333333", lw=1.2))


def models_panel(y_off, series, ylab):
    ax = make_axes(77, 61 + y_off, 387, 321 + y_off)
    handles = []
    for name, vals, (c, ls, lw, z) in zip(model_names, series, model_style):
        yrs = years_full[len(years_full) - len(vals):]
        ln, = ax.plot(yrs, vals, color=c, ls=ls, lw=lw, zorder=z, label=name)
        handles.append(ln)
    ax.set_xlim(2007.44, 2103.56)
    ax.set_ylim(-1.96, 10.46)
    r_axes(ax, [2020, 2040, 2060, 2080, 2100], ["2020", "2040", "2060", "2080", "2100"],
           [0, 2, 4, 6, 8, 10], ["0", "2", "4", "6", "8", "10"])
    leg = ax.legend(handles=handles, ncol=2, loc="upper left",
                    bbox_to_anchor=(0.026, 0.965), borderaxespad=0, fontsize=4.6,
                    handlelength=2.4, handletextpad=0.8, columnspacing=1.2,
                    labelspacing=0.28, borderpad=0.6, fancybox=False, framealpha=1)
    leg.get_frame().set_edgecolor("#333333")
    leg.get_frame().set_linewidth(0.9)
    leg.set_zorder(10)
    fig.text(fx(232), fy(35 + y_off), "ESPAÑA PENINSULAR", ha="center", va="center",
             fontsize=15.5, fontweight="bold")
    fig.text(fx(232), fy(362 + y_off), "Año", ha="center", va="center", fontsize=11.5)
    fig.text(fx(28), fy(191 + y_off), ylab, ha="center", va="center", rotation=90,
             fontsize=11)


def mean_panel(y_off, a2, b2, lo, hi, ylab):
    ax = make_axes(498, 60 + y_off, 808, 319 + y_off)
    ax.fill_between(years_full, lo, hi, color="#d0d0d0", lw=0, zorder=1)
    la, = ax.plot(years_full, a2, color="#5a5a5a", lw=2.2, zorder=3, label="A2")
    lb, = ax.plot(years_full, b2, color="#1c1c1c", lw=2.2, zorder=4, label="B2")
    ax.axvline(2071, color="#444444", lw=0.9, zorder=5)
    ax.set_xlim(2007.44, 2103.56)
    ax.set_ylim(-1.4, 9.4)
    r_axes(ax, [2020, 2040, 2060, 2080, 2100], ["2020", "2040", "2060", "2080", "2100"],
           [0, 2, 4, 6, 8], ["0", "2", "4", "6", "8"])
    leg = ax.legend(handles=[la, lb], loc="upper left", bbox_to_anchor=(0.026, 0.962),
                    borderaxespad=0, fontsize=5.5, handlelength=3.0, handletextpad=0.8,
                    labelspacing=0.3, borderpad=0.6, fancybox=False, framealpha=1)
    for h in leg.get_lines():
        h.set_linewidth(1.6)
    leg.get_frame().set_edgecolor("#333333")
    leg.get_frame().set_linewidth(0.9)
    fig.text(fx(653), fy(35 + y_off), "ESPAÑA PENINSULAR", ha="center", va="center",
             fontsize=11.5, fontweight="bold")
    fig.text(fx(653), fy(362 + y_off), "Año", ha="center", va="center", fontsize=11.5)
    fig.text(fx(452), fy(190 + y_off), ylab, ha="center", va="center", rotation=90,
             fontsize=11)


models_panel(0, tx_models, "Cambio de la temperatura máxima (ºC)")
mean_panel(0, tx_a2, tx_b2, tx_lo, tx_hi, "Cambio de la temperatura máxima (ºC)")
models_panel(376, tn_models, "Cambio de la temperatura mínima (ºC)")
mean_panel(376, tn_a2, tn_b2, tn_lo, tn_hi, "Cambio de la temperatura mínima (ºC)")

# precipitation panel
ax = make_axes(288, 813, 599, 1072)
ax.fill_between(years_pr, pr_lo, pr_hi, color="#d0d0d0", lw=0, zorder=1)
la, = ax.plot(years_pr, pr_a2, color="#5a5a5a", lw=2.2, zorder=3, label="A2")
lb, = ax.plot(years_pr, pr_b2, color="#1c1c1c", lw=2.2, zorder=4, label="B2")
ax.axvline(2071, color="#444444", lw=0.9, zorder=5)
ax.set_xlim(2011.8, 2098.2)
ax.set_ylim(-54, 54)
xt = list(range(2015, 2096, 5))
yt = list(range(-50, 51, 10))
r_axes(ax, xt, [str(t) if t in (2020, 2040, 2060, 2080) else "" for t in xt],
       yt, [fmt(t) if t % 20 == 0 else "" for t in yt])
leg = ax.legend(handles=[la, lb], loc="upper left", bbox_to_anchor=(0.032, 0.965),
                borderaxespad=0, fontsize=5.5, handlelength=3.0, handletextpad=0.8,
                labelspacing=0.3, borderpad=0.6, fancybox=False, framealpha=1)
for h in leg.get_lines():
    h.set_linewidth(1.6)
leg.get_frame().set_edgecolor("#333333")
leg.get_frame().set_linewidth(0.9)
fig.text(fx(443), fy(787), "PENINSULA", ha="center", va="center", fontsize=11.5,
         fontweight="bold")
fig.text(fx(443), fy(1112), "Año", ha="center", va="center", fontsize=11.5)
fig.text(fx(242), fy(942), "Cambio de la precipitación (%)", ha="center", va="center",
         rotation=90, fontsize=10.5)
fig.text(fx(292), fy(1116), "Media móvil de 10 años", ha="center", va="center",
         fontsize=5.5)

fig.savefig("out.png", dpi=100)
